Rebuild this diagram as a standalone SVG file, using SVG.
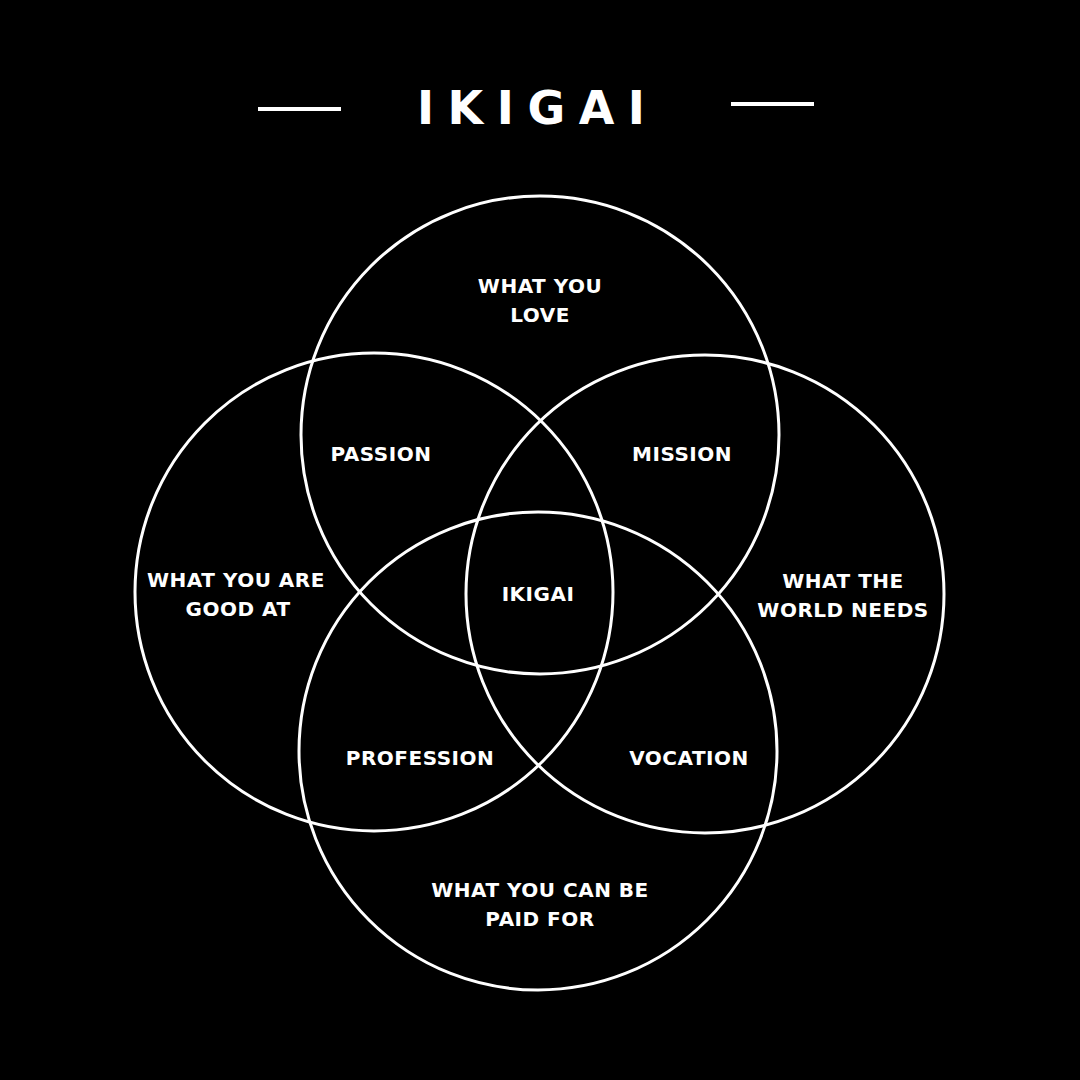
<svg xmlns="http://www.w3.org/2000/svg" width="1080" height="1080" viewBox="0 0 1080 1080">
<style>
.c{fill:none;stroke:#fff;stroke-width:3}
.t{fill:#fff;font-family:"DejaVu Sans","Liberation Sans",sans-serif;font-weight:bold;font-size:20px;letter-spacing:0.5px;text-anchor:middle}
</style>
<rect width="1080" height="1080" fill="#000"/>
<g id="title">
<rect x="258" y="107" width="83" height="4" fill="#fff"/>
<rect x="731" y="102" width="83" height="4" fill="#fff"/>
<text x="417" y="124" fill="#fff" font-family="DejaVu Sans, Liberation Sans, sans-serif" font-weight="bold" font-size="46" letter-spacing="13.5">IKIGAI</text>
</g>
<g id="connectors"></g>
<g id="love"><circle class="c" cx="540" cy="435" r="239"/><text class="t" x="540" y="293">WHAT YOU</text><text class="t" x="540" y="322">LOVE</text></g>
<g id="good"><circle class="c" cx="374" cy="592" r="239"/><text class="t" x="236" y="587">WHAT YOU ARE</text><text class="t" x="238" y="616">GOOD AT</text></g>
<g id="world"><circle class="c" cx="705" cy="594" r="239"/><text class="t" x="843" y="588">WHAT THE</text><text class="t" x="843" y="617">WORLD NEEDS</text></g>
<g id="paid"><circle class="c" cx="538" cy="751" r="239"/><text class="t" x="540" y="897">WHAT YOU CAN BE</text><text class="t" x="540" y="926">PAID FOR</text></g>
<g id="passion"><text class="t" x="381" y="461">PASSION</text></g>
<g id="mission"><text class="t" x="682" y="461">MISSION</text></g>
<g id="ikigai"><text class="t" x="538" y="601">IKIGAI</text></g>
<g id="profession"><text class="t" x="420" y="765">PROFESSION</text></g>
<g id="vocation"><text class="t" x="689" y="765">VOCATION</text></g>
</svg>
